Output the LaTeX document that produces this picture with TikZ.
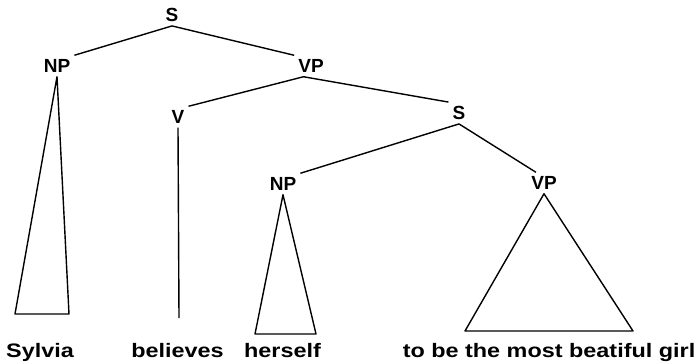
\documentclass[tikz,border=0pt]{standalone}
\usepackage{fontspec}
\setmainfont{Liberation Sans}
\usetikzlibrary{positioning}

\begin{document}
\begin{tikzpicture}[
    x=1pt, y=-1pt,
    every node/.style={font=\fontsize{19}{21}\selectfont\bfseries, inner sep=4pt},
    word/.style={font=\fontsize{19.5}{22}\selectfont\bfseries, xscale=1.2, anchor=base, inner sep=0pt},
    branch/.style={line width=1.4pt, line join=round}
]
    \fill[white] (0,0) rectangle (698,362);
    \useasboundingbox (0,0) rectangle (698,362);

    \node (S) at (172,15) {S};
    \node (NP) at (57,66) {NP};
    \node (VP) at (311,66) {VP};
    \node (V) at (178,117) {V};
    \node (S2) at (459,113) {S};
    \node (NP2) at (283,184) {NP};
    \node (VP2) at (544,183) {VP};

    \coordinate (npL) at (15,314);
    \coordinate (npR) at (69,314);
    \coordinate (vEnd) at (179,318);
    \coordinate (np2L) at (255,334);
    \coordinate (np2R) at (316,334);
    \coordinate (vp2L) at (465,331);
    \coordinate (vp2R) at (633,331);

    \draw[branch] (NP.north east) -- (S.south) -- (VP.north west);
    \draw[branch] (V.north east) -- (VP.235) -- (S2.north west);
    \draw[branch] (NP2.north east) -- (S2.south) -- (VP2.127);

    \draw[branch] (NP.south) -- (npL) -- (npR) -- cycle;
    \draw[branch] (V.south) -- (vEnd);
    \draw[branch] (NP2.south) -- (np2L) -- (np2R) -- cycle;
    \draw[branch] (VP2.south) -- (vp2L) -- (vp2R) -- cycle;

    \node[word] (sylvia) at (40,357) {Sylvia};
    \node[word] (believes) at (177.5,357) {believes};
    \node[word] (herself) at (282.5,357) {herself};
    \node[word] (girl) at (549,357) {to be the most beatiful girl};
\end{tikzpicture}
\end{document}
